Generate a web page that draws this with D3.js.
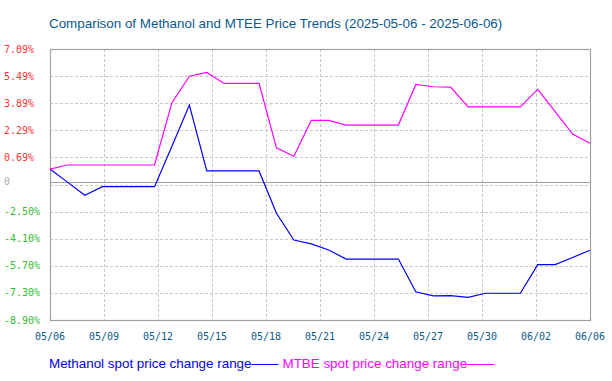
<!DOCTYPE html>
<html><head><meta charset="utf-8">
<script src="https://cdn.jsdelivr.net/npm/d3@7/dist/d3.min.js"></script>
<style>body{margin:0;background:#fff}svg{display:block}</style>
</head><body>
<script>
const title = "Comparison of Methanol and MTEE Price Trends (2025-05-06 - 2025-06-06)";
const dates = ["05/06","05/07","05/08","05/09","05/10","05/11","05/12","05/13","05/14","05/15","05/16","05/17","05/18","05/19","05/20","05/21","05/22","05/23","05/24","05/25","05/26","05/27","05/28","05/29","05/30","05/31","06/01","06/02","06/03","06/04","06/05","06/06"];
const methanol = [0,-0.77,-1.55,-1.04,-1.04,-1.04,-1.04,1.35,3.78,-0.11,-0.11,-0.11,-0.11,-2.61,-4.19,-4.42,-4.78,-5.31,-5.31,-5.31,-5.31,-7.24,-7.49,-7.47,-7.57,-7.33,-7.33,-7.33,-5.64,-5.64,-5.22,-4.79];
const mtbe = [0,0.24,0.24,0.24,0.24,0.24,0.24,3.92,5.48,5.71,5.06,5.06,5.06,1.25,0.76,2.88,2.88,2.60,2.60,2.60,2.60,5.00,4.86,4.84,3.67,3.67,3.67,3.67,4.71,3.39,2.07,1.52];
const xTickLabels = ["05/06","05/09","05/12","05/15","05/18","05/21","05/24","05/27","05/30","06/02","06/06"];
const yTickValues = [7.09,5.49,3.89,2.29,0.69,-0.91,-2.51,-4.11,-5.71,-7.31,-8.91];
const yTickLabels = ["7.09%","5.49%","3.89%","2.29%","0.69%","","-2.50%","-4.10%","-5.70%","-7.30%","-8.90%"];
const zeroLineValue = -0.76;
const seriesNames = ["Methanol spot price change range","MTBE spot price change range"];
const seriesColors = ["#0000ff","#ff00ff"];

const W = 612, H = 381;
const m = {l:50, r:22, t:49, b:61};
const svg = d3.select("body").append("svg").attr("width",W).attr("height",H);
const x = d3.scaleLinear().domain([0, dates.length-1]).range([m.l, W-m.r]);
const y = d3.scaleLinear().domain([-8.91, 7.09]).range([H-m.b, m.t]);

const sans = "Liberation Sans, Arial, sans-serif";
svg.append("text").attr("x",49).attr("y",28).attr("fill","#0c5a8c")
  .attr("font-family",sans).attr("font-size",13.4).text(title);

const n = xTickLabels.length - 1;
const xTicks = xTickLabels.map((d,i)=> i*(dates.length-1)/n);

// grid
const g = svg.append("g");
g.selectAll(".hg").data(yTickValues.slice(1,-1)).join("line")
  .attr("x1",m.l).attr("x2",W-m.r).attr("y1",d=>Math.round(y(d))+0.5).attr("y2",d=>Math.round(y(d))+0.5)
  .attr("stroke","#c8c8c8").attr("stroke-dasharray","3,2");
g.selectAll(".vg").data(xTicks.slice(1,-1)).join("line")
  .attr("y1",m.t).attr("y2",H-m.b).attr("x1",d=>Math.round(x(d))+0.5).attr("x2",d=>Math.round(x(d))+0.5)
  .attr("stroke","#c8c8c8").attr("stroke-dasharray","3,2");

// zero line
g.append("line").attr("x1",m.l).attr("x2",W-m.r)
  .attr("y1",Math.round(y(zeroLineValue))+0.5).attr("y2",Math.round(y(zeroLineValue))+0.5)
  .attr("stroke","#a0a0a0").attr("stroke-width",1.2);

// border
svg.append("rect").attr("x",m.l+0.5).attr("y",m.t+0.5).attr("width",W-m.l-m.r).attr("height",H-m.t-m.b)
  .attr("fill","none").attr("stroke","#a0a0a0").attr("stroke-width",1.2);

// y labels
const mono = "DejaVu Sans Mono, monospace";
svg.selectAll(".yl").data(yTickValues).join("text")
  .attr("x",4).attr("y",d=>y(d)+3.5).attr("font-family",mono).attr("font-size",10)
  .attr("fill",d=>d>0?"#ff3333":"#33bb33").text((d,i)=>yTickLabels[i]);
svg.append("text").attr("x",4).attr("y",y(zeroLineValue)+3.5).attr("font-family",mono).attr("font-size",10)
  .attr("fill","#aaaaaa").text("0");

// x labels
svg.selectAll(".xl").data(xTicks).join("text")
  .attr("x",d=>x(d)).attr("y",H-m.b+20).attr("text-anchor","middle").attr("font-family",mono).attr("font-size",10)
  .attr("fill","#0c5a8c").text((d,i)=>xTickLabels[i]);

// lines
const line = d3.line().x((d,i)=>x(i)).y(d=>y(d));
[methanol, mtbe].forEach((s,k)=>{
  svg.append("path").attr("d",line(s)).attr("fill","none").attr("stroke",seriesColors[k]).attr("stroke-width",1.2);
});

// legend
let lx = 49;
seriesNames.forEach((nm,k)=>{
  const t = svg.append("text").attr("x",lx).attr("y",368).attr("fill",seriesColors[k])
    .attr("font-family",sans).attr("font-size",13.4).text(nm);
  const w = t.node().getComputedTextLength();
  svg.append("line").attr("x1",lx+w).attr("x2",lx+w+27).attr("y1",364.5).attr("y2",364.5)
    .attr("stroke",seriesColors[k]).attr("stroke-width",1);
  lx = lx + w + 31;
});
</script>
</body></html>
